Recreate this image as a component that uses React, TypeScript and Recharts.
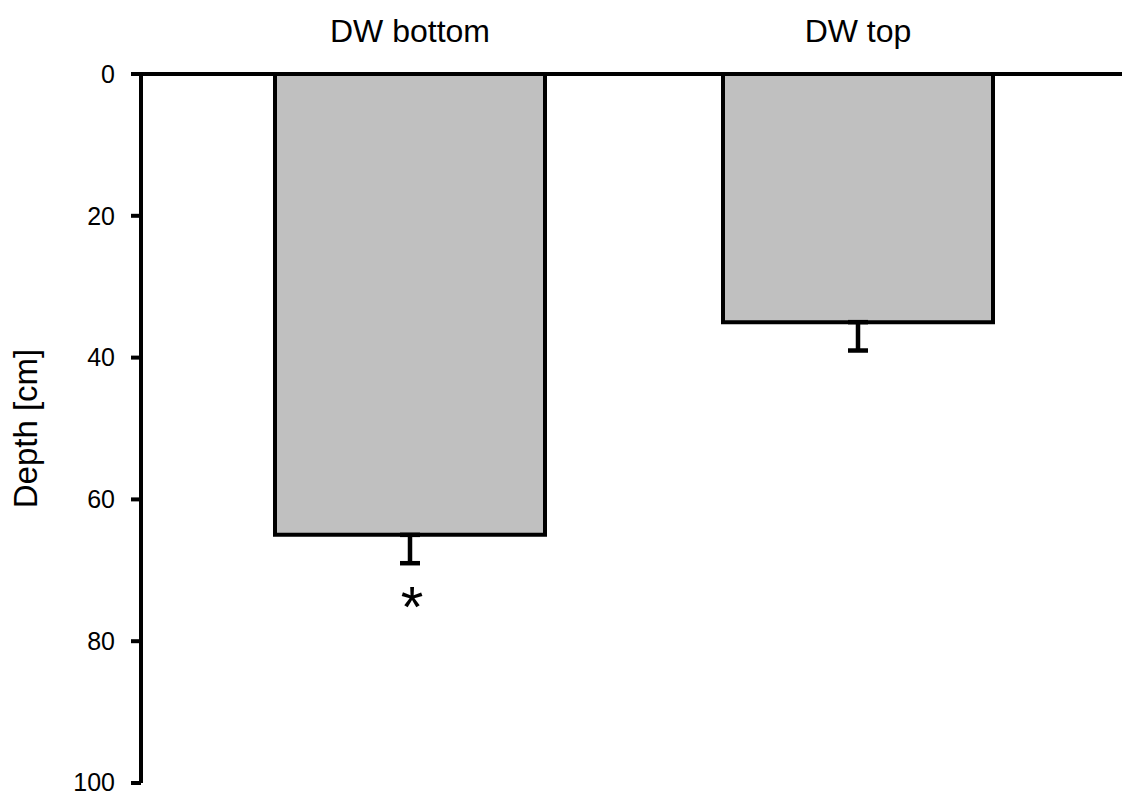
import * as React from 'react';
import {
    BarChart,
    Bar,
    XAxis,
    YAxis,
    ErrorBar,
    Label,
    LabelList
} from 'recharts';

const categories = ['DW bottom', 'DW top'];
const depth = [65, 35];
const errLow = [0, 0];
const errHigh = [4, 4];
const significance = ['*', ''];
const yTicks = [0, 20, 40, 60, 80, 100];

const data = categories.map((name, i) => ({
    name,
    depth: depth[i],
    err: [errLow[i], errHigh[i]],
    sig: significance[i]
}));

const FONT = '"Liberation Sans", Arial, sans-serif';

// asterisk below the error bar; with a reversed axis the bar's height is negative
const SigLabel = (props: any) => {
    const { x, y, width, height, value } = props;
    if (!value) return null;
    const bottom = Math.max(y, y + height);
    return (
        <text
            x={x + width / 2 + 2}
            y={bottom + 92}
            textAnchor="middle"
            fontSize={58}
            fontFamily={FONT}
            fill="#000"
        >
            {value}
        </text>
    );
};

const App = () => {
    return (
        <div style={{ position: 'absolute', left: 0, top: 0 }}>
            <BarChart
                width={1122}
                height={796}
                data={data}
                margin={{ top: 0, right: 0, bottom: 13, left: 0 }}
                barSize={270}
            >
                <XAxis
                    dataKey="name"
                    orientation="top"
                    height={74}
                    axisLine={{ stroke: '#000', strokeWidth: 4 }}
                    tickLine={false}
                    tickMargin={26}
                    padding={{ left: 45, right: 40 }}
                    fontSize={32}
                    tick={{ fill: '#000', fontSize: 32, fontFamily: FONT }}
                />
                <YAxis
                    width={141}
                    reversed
                    domain={[0, 100]}
                    ticks={yTicks}
                    axisLine={{ stroke: '#000', strokeWidth: 4 }}
                    tickLine={{ stroke: '#000', strokeWidth: 4 }}
                    tickSize={10}
                    tickMargin={16}
                    fontSize={25}
                    tick={{ fill: '#000', fontSize: 25, fontFamily: FONT }}
                >
                    <Label
                        content={(p: any) => {
                            const vb = p.viewBox || {};
                            const cy = vb.y + vb.height / 2;
                            return (
                                <text
                                    x={37}
                                    y={cy}
                                    transform={`rotate(-90, 37, ${cy})`}
                                    textAnchor="middle"
                                    fontSize={33}
                                    fontFamily={FONT}
                                    fill="#000"
                                >
                                    Depth [cm]
                                </text>
                            );
                        }}
                    />
                </YAxis>
                <Bar
                    dataKey="depth"
                    fill="#c0c0c0"
                    stroke="#000"
                    strokeWidth={4}
                    isAnimationActive={false}
                >
                    <ErrorBar
                        dataKey="err"
                        direction="y"
                        width={10}
                        stroke="#000"
                        strokeWidth={4.5}
                        isAnimationActive={false}
                    />
                    <LabelList dataKey="sig" content={SigLabel} />
                </Bar>
            </BarChart>
        </div>
    );
};

export default App;
